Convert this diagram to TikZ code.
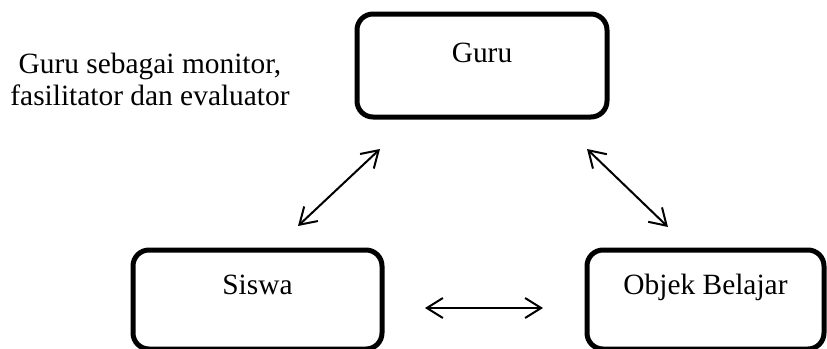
\documentclass[tikz,border=0pt]{standalone}
\usepackage{fontspec}
\setmainfont{Liberation Serif}
\usetikzlibrary{arrows.meta}

\begin{document}
\begin{tikzpicture}[
    x=0.5pt, y=-0.5pt,
    box/.style={draw, line width=2.5pt, rounded corners=8pt, inner sep=0pt,
                text height=10pt, text depth=15pt,
                font=\fontsize{14.7pt}{16pt}\selectfont},
    note/.style={align=center, inner sep=0pt, font=\fontsize{14.7pt}{16pt}\selectfont},
    link/.style={line width=1pt,
                 {Straight Barb[length=8pt,width=10pt]}-{Straight Barb[length=8pt,width=10pt]}}
  ]
  \useasboundingbox (0,0) rectangle (827,349);

  % Boxes
  \node[box, text depth=13.5pt, minimum width=125pt, minimum height=51.5pt] (guru) at (482,65.5) {Guru};
  \node[box, minimum width=124.5pt, minimum height=49.5pt] (siswa) at (257.5,299.5) {Siswa};
  \node[box, minimum width=118.5pt, minimum height=49.5pt] (objek) at (705.5,299.5) {Objek Belajar};

  % Note beside Guru
  \node[note, anchor=north] (peran) at (150,53) {Guru sebagai monitor,\\fasilitator dan evaluator};

  % Arrow ends
  \coordinate (gs1) at (380,149);
  \coordinate (gs2) at (298,226);
  \coordinate (go1) at (587,149);
  \coordinate (go2) at (668,227);
  \coordinate (so1) at (425,308);
  \coordinate (so2) at (543,308);

  % Links
  \draw[link] (gs1) -- (gs2);
  \draw[link] (go1) -- (go2);
  \draw[link] (so1) -- (so2);
\end{tikzpicture}
\end{document}
